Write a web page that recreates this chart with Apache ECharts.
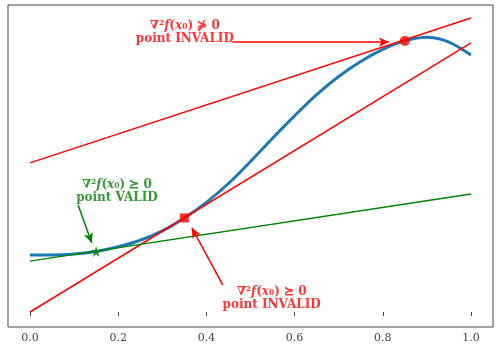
<!DOCTYPE html>
<html>
<head>
<meta charset="utf-8">
<script src="https://cdn.jsdelivr.net/npm/echarts@6/dist/echarts.min.js"></script>
<style>
  html, body { margin: 0; padding: 0; background: #fff; }
  #main { width: 499px; height: 349px; }
</style>
</head>
<body>
<div id="main"></div>
<script>
// curve f(x)
const xs = [0, 0.05, 0.1, 0.15, 0.2, 0.25, 0.3, 0.35, 0.4, 0.45, 0.5, 0.55, 0.6, 0.65, 0.7, 0.75, 0.8, 0.85, 0.9, 0.95, 1.0]
const fx = [0.194, 0.194, 0.197, 0.206, 0.222, 0.244, 0.276, 0.320, 0.373, 0.437, 0.512, 0.591, 0.667, 0.739, 0.801, 0.852, 0.893, 0.922, 0.934, 0.918, 0.874]

// tangent lines (end points at x=0 and x=1)
const tangentTop = [[0, 0.507], [1, 1.0]]
const tangentMid = [[0, 0.0], [1, 0.915]]
const tangentValid = [[0, 0.173], [1, 0.401]]

// the three evaluation points
const ptCircle = [0.85, 0.922]
const ptSquare = [0.35, 0.320]
const ptStar = [0.15, 0.206]

// annotations: text anchor, arrow tail, arrow tip
const noteTop = { at: [0.351, 0.952], from: [0.459, 0.918], to: [0.814, 0.918] }
const noteValid = { at: [0.197, 0.410], from: [0.109, 0.364], to: [0.140, 0.235] }
const noteLow = { at: [0.548, 0.045], from: [0.437, 0.092], to: [0.367, 0.286] }

const xTicks = [0, 0.2, 0.4, 0.6, 0.8, 1.0]

const RED = '#ff0000'
const GREEN = '#008000'
const BLUE = '#1f77b4'

function richFor(color) {
  const base = { fontFamily: 'DejaVu Serif', fontWeight: 'bold', fontSize: 12, color: color, lineHeight: 13 }
  return {
    n: base,
    i: Object.assign({}, base, { fontStyle: 'italic' })
  }
}

function noteSeries(note, color, rel) {
  return {
    type: 'scatter',
    data: [note.at],
    symbolSize: 0.1,
    itemStyle: { color: 'rgba(0,0,0,0)' },
    silent: true,
    z: 5,
    label: {
      show: true,
      position: 'inside',
      align: 'center',
      verticalAlign: 'middle',
      formatter: '{n|∇²}{i|f}{n|(}{i|x}{n|₀) ' + rel + ' 0}\n{n|point ' + (color === GREEN ? 'VALID' : 'INVALID') + '}',
      rich: richFor(color)
    },
    markLine: {
      silent: true,
      symbol: ['none', 'arrow'],
      symbolSize: [7, 10],
      label: { show: false },
      lineStyle: { color: color, width: 1.5, type: 'solid' },
      data: [[{ coord: note.from }, { coord: note.to }]]
    }
  }
}

const chart = echarts.init(document.getElementById('main'))

const option = {
  animation: false,
  grid: {
    left: 8, right: 6, top: 5, bottom: 22,
    show: true,
    borderColor: '#444',
    borderWidth: 1
  },
  xAxis: {
    type: 'value',
    min: -0.05,
    max: 1.05,
    splitLine: { show: false },
    axisLine: { show: false },
    axisTick: { show: true, length: 4, customValues: xTicks, lineStyle: { color: '#444' } },
    axisLabel: {
      customValues: xTicks,
      margin: 6,
      fontFamily: 'DejaVu Serif',
      fontSize: 11,
      color: '#444',
      formatter: v => v.toFixed(1)
    }
  },
  yAxis: {
    type: 'value',
    min: -0.051,
    max: 1.044,
    show: false,
    splitLine: { show: false }
  },
  series: [
    {
      type: 'line',
      data: xs.map((x, k) => [x, fx[k]]),
      smooth: 0.3,
      showSymbol: false,
      lineStyle: { color: BLUE, width: 3 },
      z: 2
    },
    { type: 'line', data: tangentTop, showSymbol: false, lineStyle: { color: RED, width: 1.5 }, z: 3 },
    { type: 'line', data: tangentMid, showSymbol: false, lineStyle: { color: RED, width: 1.5 }, z: 3 },
    { type: 'line', data: tangentValid, showSymbol: false, lineStyle: { color: GREEN, width: 1.5 }, z: 3 },
    { type: 'scatter', data: [ptCircle], symbol: 'circle', symbolSize: 10, itemStyle: { color: RED }, z: 4 },
    { type: 'scatter', data: [ptSquare], symbol: 'rect', symbolSize: 9, itemStyle: { color: RED }, z: 4 },
    {
      type: 'scatter',
      data: [ptStar],
      symbol: 'path://M50,0 L61,35 L98,35 L68,57 L79,91 L50,70 L21,91 L32,57 L2,35 L39,35 Z',
      symbolSize: 11,
      itemStyle: { color: GREEN },
      z: 4
    },
    noteSeries(noteTop, RED, '⋡'),
    noteSeries(noteValid, GREEN, '⪰'),
    noteSeries(noteLow, RED, '⪰')
  ]
}

chart.setOption(option)
</script>
</body>
</html>
